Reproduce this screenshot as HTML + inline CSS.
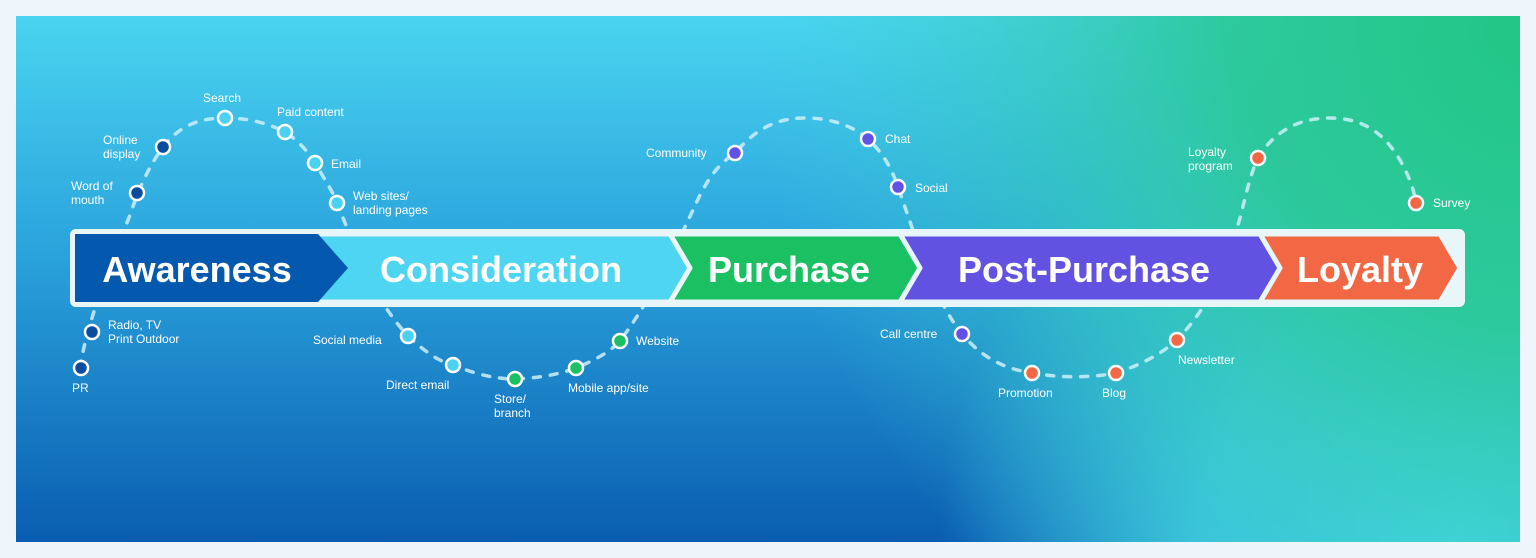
<!DOCTYPE html>
<html><head><meta charset="utf-8"><style>
html,body{margin:0;padding:0;background:#eef6fb;}
svg{display:block;font-family:"Liberation Sans",sans-serif;}
</style></head><body>
<svg width="1536" height="558" viewBox="0 0 1536 558" xmlns="http://www.w3.org/2000/svg">
<defs>
<linearGradient id="g1" x1="0" y1="0" x2="0" y2="1">
<stop offset="0" stop-color="#4ad4f0"/><stop offset="0.45" stop-color="#2aa3dc"/><stop offset="1" stop-color="#0a5db0"/>
</linearGradient>
<radialGradient id="g2" cx="1536" cy="20" r="780" gradientUnits="userSpaceOnUse">
<stop offset="0" stop-color="#22c684"/><stop offset="0.4" stop-color="#2cc99a" stop-opacity="0.95"/><stop offset="1" stop-color="#3fd0d8" stop-opacity="0"/>
</radialGradient>
<radialGradient id="g3" cx="1460" cy="540" r="520" gradientUnits="userSpaceOnUse">
<stop offset="0" stop-color="#48d8f2"/><stop offset="0.5" stop-color="#44d2ee" stop-opacity="0.85"/><stop offset="1" stop-color="#44d2ee" stop-opacity="0"/>
</radialGradient>
</defs>
<rect x="16" y="16" width="1504" height="526" fill="url(#g1)"/>
<rect x="16" y="16" width="1504" height="526" fill="url(#g3)"/>
<rect x="16" y="16" width="1504" height="526" fill="url(#g2)"/>

<path d="M80,368 C86,330 100,290 130,215 C140,185 150,165 163,147 C180,125 200,118 225,118 C250,118 270,124 285,132 C300,142 308,152 315,163 C325,180 332,190 337,203 C360,260 375,300 408,336 C425,352 440,362 453,365 C475,374 495,379 515,379 C540,378 560,374 576,368 C595,360 610,352 620,341 C650,300 665,270 700,195 C712,172 722,162 735,153 C755,130 775,118 805,118 C835,118 855,128 868,139 C885,155 892,170 898,187 C920,250 935,300 962,334 C980,355 1000,368 1032,373 C1060,378 1090,378 1116,373 C1140,365 1160,355 1177,340 C1210,305 1225,270 1240,218 C1246,195 1250,175 1258,158 C1275,130 1300,118 1330,118 C1365,118 1385,135 1400,160 C1410,178 1414,190 1416,203" fill="none" stroke="#cdeef8" stroke-width="3.5" stroke-dasharray="7 10" stroke-linecap="round" opacity="0.85"/>

<rect x="70" y="229" width="1395" height="78" rx="6" fill="#e8f6fa"/>
<g stroke="#e8f6fa" stroke-width="5" stroke-linejoin="round">
<polygon points="1240,234 1440,234 1460,268 1440,302 1240,302 1260,268" fill="#f26845"/>
<polygon points="880,234 1260,234 1280,268 1260,302 880,302 900,268" fill="#6252e2"/>
<polygon points="650,234 900,234 920,268 900,302 650,302 670,268" fill="#1ac062"/>
<polygon points="310,234 670,234 690,268 670,302 310,302 330,268" fill="#4dd5f2"/>
<polygon points="75,234 318,234 348,268 318,302 75,302" fill="#0458ad" stroke="none"/>
</g>
<g fill="#fff" font-weight="bold" font-size="36" text-anchor="middle">
<text x="197" y="282">Awareness</text>
<text x="501" y="282">Consideration</text>
<text x="789" y="282">Purchase</text>
<text x="1084" y="282">Post-Purchase</text>
<text x="1360" y="282">Loyalty</text>
</g>

<g stroke="#fff" stroke-width="2.5">
<circle cx="81" cy="368" r="7" fill="#0a4d9c"/>
<circle cx="92" cy="332" r="7" fill="#0a4d9c"/>
<circle cx="137" cy="193" r="7" fill="#0a4d9c"/>
<circle cx="163" cy="147" r="7" fill="#0a4d9c"/>
<circle cx="225" cy="118" r="7" fill="#4ad3f0"/>
<circle cx="285" cy="132" r="7" fill="#4ad3f0"/>
<circle cx="315" cy="163" r="7" fill="#4ad3f0"/>
<circle cx="337" cy="203" r="7" fill="#4ad3f0"/>
<circle cx="408" cy="336" r="7" fill="#4ad3f0"/>
<circle cx="453" cy="365" r="7" fill="#4ad3f0"/>
<circle cx="515" cy="379" r="7" fill="#1ac062"/>
<circle cx="576" cy="368" r="7" fill="#1ac062"/>
<circle cx="620" cy="341" r="7" fill="#1ac062"/>
<circle cx="735" cy="153" r="7" fill="#6252e2"/>
<circle cx="868" cy="139" r="7" fill="#6252e2"/>
<circle cx="898" cy="187" r="7" fill="#6252e2"/>
<circle cx="962" cy="334" r="7" fill="#6252e2"/>
<circle cx="1032" cy="373" r="7" fill="#f26845"/>
<circle cx="1116" cy="373" r="7" fill="#f26845"/>
<circle cx="1177" cy="340" r="7" fill="#f26845"/>
<circle cx="1258" cy="158" r="7" fill="#f26845"/>
<circle cx="1416" cy="203" r="7" fill="#f26845"/>
</g>

<g fill="#fff" font-size="12">
<text x="72" y="392">PR</text>
<text x="108" y="329">Radio, TV</text>
<text x="108" y="343">Print Outdoor</text>
<text x="71" y="190">Word of</text>
<text x="71" y="204">mouth</text>
<text x="103" y="144">Online</text>
<text x="103" y="158">display</text>
<text x="203" y="102">Search</text>
<text x="277" y="116">Paid content</text>
<text x="331" y="168">Email</text>
<text x="353" y="200">Web sites/</text>
<text x="353" y="214">landing pages</text>
<text x="313" y="344">Social media</text>
<text x="386" y="389">Direct email</text>
<text x="494" y="403">Store/</text>
<text x="494" y="417">branch</text>
<text x="568" y="392">Mobile app/site</text>
<text x="636" y="345">Website</text>
<text x="646" y="157">Community</text>
<text x="885" y="143">Chat</text>
<text x="915" y="192">Social</text>
<text x="880" y="338">Call centre</text>
<text x="998" y="397">Promotion</text>
<text x="1102" y="397">Blog</text>
<text x="1178" y="364">Newsletter</text>
<text x="1188" y="156">Loyalty</text>
<text x="1188" y="170">program</text>
<text x="1433" y="207">Survey</text>
</g>
</svg>
</body></html>
